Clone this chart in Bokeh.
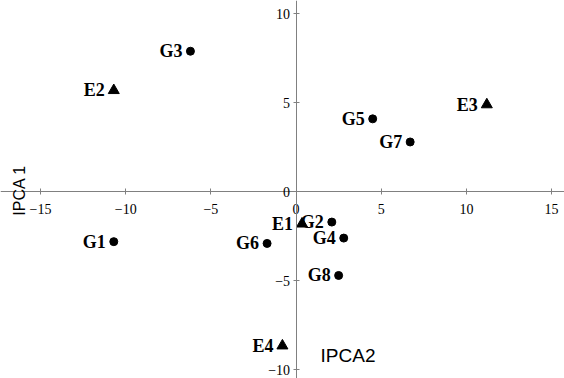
from math import pi
from bokeh.plotting import figure
from bokeh.models import Range1d, LinearAxis, FixedTicker, Label, ColumnDataSource
from bokeh.embed import file_html
from bokeh.resources import INLINE
from bokeh.core.properties import value

# Genotypes (circles)
g_names = ["G1", "G2", "G3", "G4", "G5", "G6", "G7", "G8"]
g_ipca2 = [-10.7, 2.1, -6.2, 2.8, 4.5, -1.7, 6.7, 2.5]
g_ipca1 = [-2.8, -1.7, 7.9, -2.6, 4.1, -2.9, 2.8, -4.7]

# Environments (triangles)
e_names = ["E1", "E2", "E3", "E4"]
e_ipca2 = [0.35, -10.7, 11.2, -0.8]
e_ipca1 = [-1.8, 5.7, 4.9, -8.65]

x_ticks = [-15, -10, -5, 0, 5, 10, 15]
y_ticks = [-10, -5, 0, 5, 10]

p = figure(width=564, height=378, output_backend="svg", toolbar_location=None,
           x_range=Range1d(-17.35, 15.76), y_range=Range1d(-10.49, 10.75),
           x_axis_location=None, y_axis_location=None,
           min_border=0, outline_line_color=None)
p.xgrid.visible = False
p.ygrid.visible = False

axis_color = "#808080"

xa = LinearAxis(fixed_location=0, ticker=FixedTicker(ticks=x_ticks))
ya = LinearAxis(fixed_location=0, ticker=FixedTicker(ticks=y_ticks))
for ax in (xa, ya):
    ax.axis_line_color = axis_color
    ax.major_tick_line_color = axis_color
    ax.major_tick_in = 3
    ax.major_tick_out = 3
    ax.minor_tick_line_color = None
    ax.major_label_text_font = "Liberation Serif"
    ax.major_label_text_font_size = "14px"
    ax.major_label_text_color = "black"
xa.major_label_standoff = 9
ya.major_label_standoff = 3
p.add_layout(xa, "below")
p.add_layout(ya, "left")

gsrc = ColumnDataSource(dict(x=g_ipca2, y=g_ipca1, name=g_names))
esrc = ColumnDataSource(dict(x=e_ipca2, y=e_ipca1, name=e_names))

p.scatter("x", "y", source=gsrc, marker="circle", size=8, color="black")
p.scatter("x", "y", source=esrc, marker="triangle", size=11, color="black")

p.text("x", "y", text="name", source=gsrc, text_align="right", text_baseline="middle",
       x_offset=-8, text_font=value("Liberation Serif"), text_font_style="bold",
       text_font_size="18px", text_color="black")
p.text("x", "y", text="name", source=esrc, text_align="right", text_baseline="middle",
       x_offset=-9, text_font=value("Liberation Serif"), text_font_style="bold",
       text_font_size="18px", text_color="black")

p.add_layout(Label(x=-16.23, y=0.08, text="IPCA 1", angle=pi / 2, text_align="center",
                   text_baseline="middle", text_font="Liberation Sans",
                   text_font_size="16px", text_color="black"))
p.add_layout(Label(x=1.44, y=-9.19, text="IPCA2", text_align="left",
                   text_baseline="middle", text_font="Liberation Sans",
                   text_font_size="19px", text_color="black"))

open("out.html", "w").write(file_html(p, INLINE))
